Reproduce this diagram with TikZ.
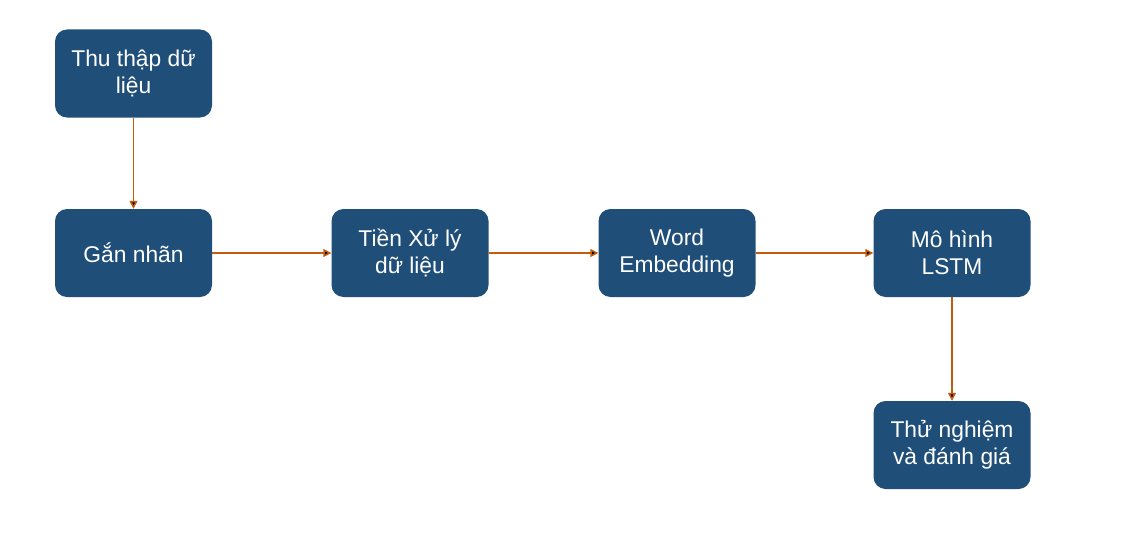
\documentclass[tikz,border=0pt]{standalone}
\usepackage{fontspec}
\setmainfont{Liberation Sans}
\usetikzlibrary{positioning,arrows.meta}
\definecolor{boxblue}{HTML}{1F4E79}
\definecolor{arrowbrown}{HTML}{C55A11}
\begin{document}
\begin{tikzpicture}
[
  box/.style={rectangle, rounded corners=12pt, fill=boxblue, draw=none, text=white,
    minimum width=157pt, minimum height=88pt, align=center,
    font=\fontsize{22.8}{27}\selectfont},
  link/.style={draw=arrowbrown, line width=1.5pt, -{Triangle[width=8pt,length=8pt]}},
  node distance=2cm,
  on grid
]
 \useasboundingbox (0,0) rectangle (1140pt,-543pt);
 \node[box] (b0) at (133.5pt,-73.5pt) {Thu thập dữ\\liệu};
 \node[box] (b1) [below=179.5pt of b0] {Gắn nhãn};
 \node[box] (b2) [right=276.5pt of b1] {Tiền Xử lý\\dữ liệu};
 \node[box] (b3) [right=267pt of b2] {Word\\Embedding};
 \node[box] (b4) [right=275pt of b3] {Mô hình\\LSTM};
 \node[box] (b5) [below=192pt of b4] {Thử nghiệm\\và đánh giá};

  \path[link]
    (b0) edge (b1)
    (b1) edge (b2)
    (b2) edge (b3)
    (b3) edge (b4)
    (b4) edge (b5);
\end{tikzpicture}
\end{document}
